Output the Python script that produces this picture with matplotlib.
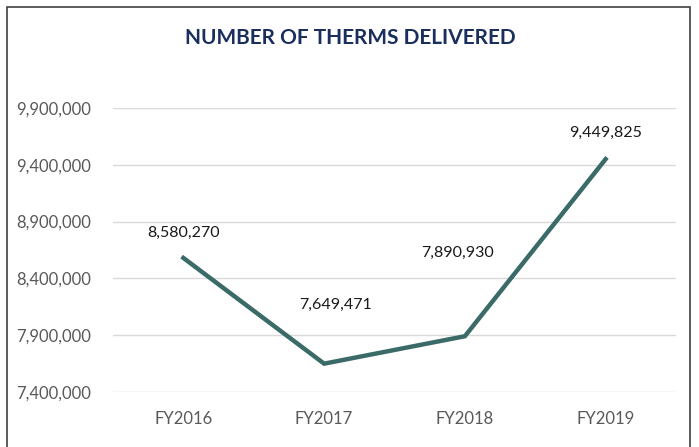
import matplotlib.pyplot as plt
from matplotlib.patches import Rectangle
from matplotlib.ticker import FuncFormatter

years = ["FY2016", "FY2017", "FY2018", "FY2019"]
therms = [8580270, 7649471, 7890930, 9449825]
y_ticks = [7400000, 7900000, 8400000, 8900000, 9400000, 9900000]

# label offsets in points (labels were moved by hand in the original)
label_offsets = [(0, 18), (8, 42), (-5, 60), (0, 19)]

plt.rcParams["font.family"] = ["Lato", "DejaVu Sans"]

fig = plt.figure(figsize=(6.99, 4.47), dpi=100)
ax = fig.add_axes([113 / 699, 1 - 392 / 447, (676 - 113) / 699, (392 - 108) / 447])

x = range(len(years))
ax.plot(x, therms, color="#3b6b68", linewidth=3.2, solid_joinstyle="miter")

for i, v in enumerate(therms):
    ax.annotate(f"{v:,}", (i, v), xytext=label_offsets[i], textcoords="offset points",
                ha="center", va="center", fontsize=11.5, color="#1a1a1a")

ax.set_xlim(-0.5, len(years) - 0.5)
ax.set_ylim(y_ticks[0], y_ticks[-1])
ax.set_yticks(y_ticks)
ax.yaxis.set_major_formatter(FuncFormatter(lambda v, p: f"{int(v):,}"))
ax.set_xticks(list(x))
ax.set_xticklabels(years)
ax.grid(axis="y", color="#d9d9d9", linewidth=1)
ax.set_axisbelow(True)
for s in ax.spines.values():
    s.set_visible(False)
ax.tick_params(length=0, labelsize=12, labelcolor="#595959")
ax.tick_params(axis="y", pad=16)
ax.tick_params(axis="x", pad=14)

fig.text(350 / 699, 1 - 38 / 447, "NUMBER OF THERMS DELIVERED", ha="center", va="center",
         fontsize=15, fontweight="bold", color="#1a2f5e")

fig.patches.append(Rectangle((7 / 699, -0.05), (690 - 7) / 699, 1.05 - 7 / 447,
                             transform=fig.transFigure, fill=False,
                             edgecolor="#404040", linewidth=1.2))

fig.savefig("out.png", dpi=100)
